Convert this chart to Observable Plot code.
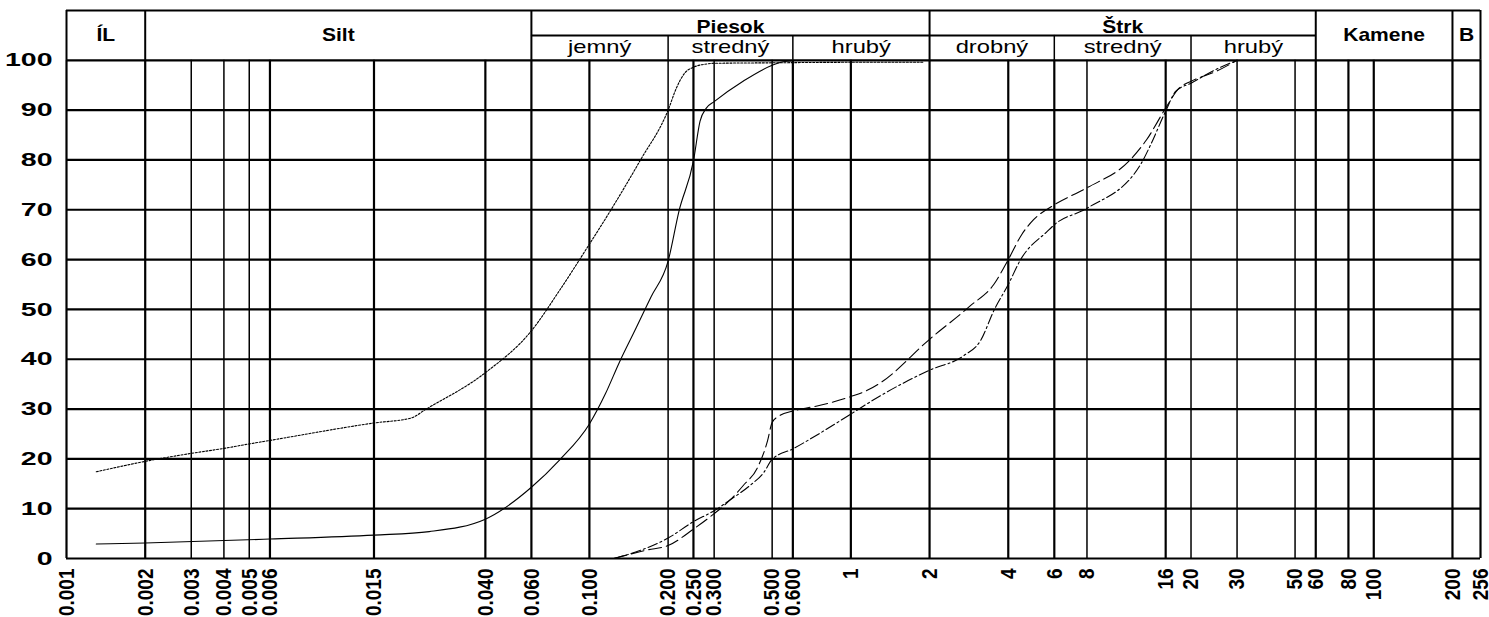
<!DOCTYPE html>
<html>
<head>
<meta charset="utf-8">
<script src="https://cdn.jsdelivr.net/npm/d3@7"></script>
<script src="https://cdn.jsdelivr.net/npm/@observablehq/plot@0.6"></script>
<style>
  html, body { margin: 0; padding: 0; background: #fff; }
  svg { display: block; }
</style>
</head>
<body>
<div id="chart"></div>
<script>
// ---- Axis ticks ----
const sizeTicks = [0.001, 0.002, 0.003, 0.004, 0.005, 0.006, 0.015, 0.040, 0.060, 0.100, 0.200, 0.250, 0.300, 0.500, 0.600, 1, 2, 4, 6, 8, 16, 20, 30, 50, 60, 80, 100, 200, 256];
const sizeTickLabels = ["0.001", "0.002", "0.003", "0.004", "0.005", "0.006", "0.015", "0.040", "0.060", "0.100", "0.200", "0.250", "0.300", "0.500", "0.600", "1", "2", "4", "6", "8", "16", "20", "30", "50", "60", "80", "100", "200", "256"];
const percentTicks = [0, 10, 20, 30, 40, 50, 60, 70, 80, 90, 100];

// grid line weights
const majorGrid = [0.001, 0.002, 0.006, 0.015, 0.040, 0.060, 0.100, 0.250, 0.600, 1, 2, 4, 6, 16, 60, 80, 100, 200, 256];
const minorGrid = [0.003, 0.004, 0.005, 0.200, 0.300, 0.500, 8, 20, 30, 50];

// ---- Header (classification) ----
const fractionNames = ["ÍL", "Silt", "Piesok", "Štrk", "Kamene", "B"];
const fractionBounds = [0.001, 0.002, 0.06, 2, 60, 200, 256];
const fractionSplit = [false, false, true, true, false, false]; // has sub-fractions
const subNames = ["jemný", "stredný", "hrubý", "drobný", "stredný", "hrubý"];
const subBounds = [[0.06, 0.2], [0.2, 0.6], [0.6, 2], [2, 6], [6, 20], [20, 60]];

// ---- Grading curves (grain size mm, % passing) ----
const dottedSize = [0.0013, 0.002, 0.003, 0.004, 0.005, 0.006, 0.015, 0.0208, 0.0236, 0.04, 0.06, 0.0773, 0.1, 0.12, 0.156, 0.2, 0.215, 0.232, 0.25, 0.284, 0.3, 0.5, 1, 1.9];
const dottedPass = [17.4, 19.5, 21.1, 22.1, 23.0, 23.7, 27.2, 28.2, 29.9, 37.3, 45.7, 54, 63.1, 69.7, 79.8, 90, 94.4, 97.5, 98.6, 99.3, 99.4, 99.5, 99.6, 99.6];

const solidSize = [0.0013, 0.002, 0.006, 0.015, 0.0244, 0.04, 0.06, 0.077, 0.1, 0.115, 0.13, 0.151, 0.172, 0.2, 0.22, 0.25, 0.265, 0.28, 0.3, 0.387, 0.5, 0.55, 0.6];
const solidPass = [2.9, 3.1, 3.9, 4.7, 5.4, 7.9, 14.3, 19.8, 27, 33, 39.3, 46.3, 52.5, 59.7, 69.7, 79.8, 87.8, 90.4, 91.7, 95.8, 99, 99.7, 99.9];

const dashedSize = [0.124, 0.166, 0.2, 0.25, 0.3, 0.346, 0.387, 0.44, 0.48, 0.5, 0.535, 0.6, 0.77, 1.0, 1.15, 1.3, 2, 2.86, 3.52, 4, 4.5, 5, 6, 8, 11.7, 13.5, 16, 18, 20, 25, 30];
const dashedPass = [0, 1.7, 2.6, 5.9, 9.0, 11.8, 14.6, 18.3, 23.6, 27.3, 28.7, 29.6, 30.8, 32.5, 33.7, 35.3, 44, 50.7, 55, 60, 65, 68, 71, 74.4, 80, 84, 90.4, 94.4, 95.8, 97.8, 100];

const dashDotSize = [0.124, 0.156, 0.2, 0.25, 0.3, 0.346, 0.41, 0.465, 0.5, 0.6, 0.77, 1, 1.3, 2, 2.7, 3.13, 3.54, 4, 4.46, 5.65, 6, 8, 12.8, 14, 16, 17.5, 20, 25, 30];
const dashDotPass = [0, 1.6, 4.1, 7.4, 9.6, 11.8, 14.6, 17.3, 19.9, 22, 25.3, 29, 32.7, 37.8, 40.7, 43.7, 50, 55, 60, 65.7, 67, 70.3, 79, 83, 89.8, 93.8, 95.4, 98.2, 100];

// ---- build tables ----
const toRows = (xs, ys) => xs.map((x, i) => ({x, y: ys[i]}));
const gmean = (a, b) => Math.sqrt(a * b);

const fracLabels = fractionNames.map((name, i) => ({
  x: gmean(fractionBounds[i], fractionBounds[i + 1]),
  y: fractionSplit[i] ? 106.7 : 105,
  name
}));
const subLabels = subNames.map((name, i) => ({x: gmean(subBounds[i][0], subBounds[i][1]), y: 102.6, name}));
const subDividers = [0.2, 0.6, 6, 20];
const xTickRows = sizeTicks.map((t, i) => ({x: t, label: sizeTickLabels[i]}));

const FONT = "'Liberation Sans', Arial, Helvetica, sans-serif";

const chart = Plot.plot({
  width: 1489,
  height: 617,
  marginLeft: 66,
  marginRight: 9,
  marginTop: 10,
  marginBottom: 59,
  style: {fontFamily: FONT, fontSize: "17px", color: "#000", background: "#fff", overflow: "visible"},
  x: {type: "log", domain: [0.001, 256], axis: null},
  y: {domain: [0, 110], axis: null},
  marks: [
    // header
    Plot.ruleY([110], {x1: 0.001, x2: 256, stroke: "#000", strokeWidth: 2}),
    Plot.ruleY([105], {x1: 0.06, x2: 60, stroke: "#000", strokeWidth: 2}),
    Plot.ruleX(fractionBounds, {y1: 100, y2: 110, stroke: "#000", strokeWidth: 2}),
    Plot.ruleX(subDividers, {y1: 100, y2: 105, stroke: "#000", strokeWidth: 1.5}),
    // grid
    Plot.ruleX(minorGrid, {y1: 0, y2: 100, stroke: "#000", strokeWidth: 1.5}),
    Plot.ruleX(majorGrid, {y1: 0, y2: 100, stroke: "#000", strokeWidth: 2.2}),
    Plot.ruleY(percentTicks, {x1: 0.001, x2: 256, stroke: "#000", strokeWidth: 2.2}),
    // curves
    Plot.line(toRows(dottedSize, dottedPass), {x: "x", y: "y", curve: "monotone-x", stroke: "#000", strokeWidth: 1.1, strokeDasharray: "2,1.6"}),
    Plot.line(toRows(solidSize, solidPass), {x: "x", y: "y", curve: "monotone-x", stroke: "#000", strokeWidth: 1.1}),
    Plot.line(toRows(dashedSize, dashedPass), {x: "x", y: "y", curve: "monotone-x", stroke: "#000", strokeWidth: 1.1, strokeDasharray: "13,5"}),
    Plot.line(toRows(dashDotSize, dashDotPass), {x: "x", y: "y", curve: "monotone-x", stroke: "#000", strokeWidth: 1.1, strokeDasharray: "10,3,2,3"}),
    // texts (stretched horizontally afterwards, like the reference lettering)
    Plot.text(fracLabels, {x: "x", y: "y", text: "name", fontWeight: "bold", fontSize: 18, fill: "#000"}),
    Plot.text(subLabels, {x: "x", y: "y", text: "name", fontSize: 19, fill: "#000"}),
    Plot.text(percentTicks, {y: d => d, frameAnchor: "left", text: d => String(d), dx: -14, textAnchor: "end",
      fontSize: 19, fontWeight: "bold", fill: "#000"}),
    Plot.text(xTickRows, {x: "x", frameAnchor: "bottom", text: "label", rotate: -90, dy: 10, textAnchor: "end",
      lineAnchor: "middle", fontSize: 19, fontWeight: "bold", fill: "#000"})
  ]
});

// horizontal stretch of the lettering (reference text is wide)
const textGroups = chart.querySelectorAll('g[aria-label="text"]');
const isPx = v => v != null && /^\s*-?[\d.]+(e-?\d+)?\s*$/.test(v);
function stretch(group, sx, sy) {
  if (!group) return;
  group.querySelectorAll("text").forEach(el => {
    let pre = "";
    const ax = el.getAttribute("x"), ay = el.getAttribute("y");
    if (isPx(ax) || isPx(ay)) {
      const x = isPx(ax) ? +ax : 0, y = isPx(ay) ? +ay : 0;
      if (isPx(ax)) el.removeAttribute("x");
      if (isPx(ay)) el.removeAttribute("y");
      pre = ` translate(${x},${y})`;
    }
    const t = el.getAttribute("transform") || "";
    el.setAttribute("transform", `${t}${pre} scale(${sx},${sy})`);
  });
}
stretch(textGroups[0], 1.17, 1);  // fraction names
stretch(textGroups[1], 1.25, 1);  // sub-fraction names
stretch(textGroups[2], 1.5, 1);   // percent labels
stretch(textGroups[3], 1, 1.2);   // grain size labels (rotated)

document.getElementById("chart").appendChild(chart);
</script>
</body>
</html>
